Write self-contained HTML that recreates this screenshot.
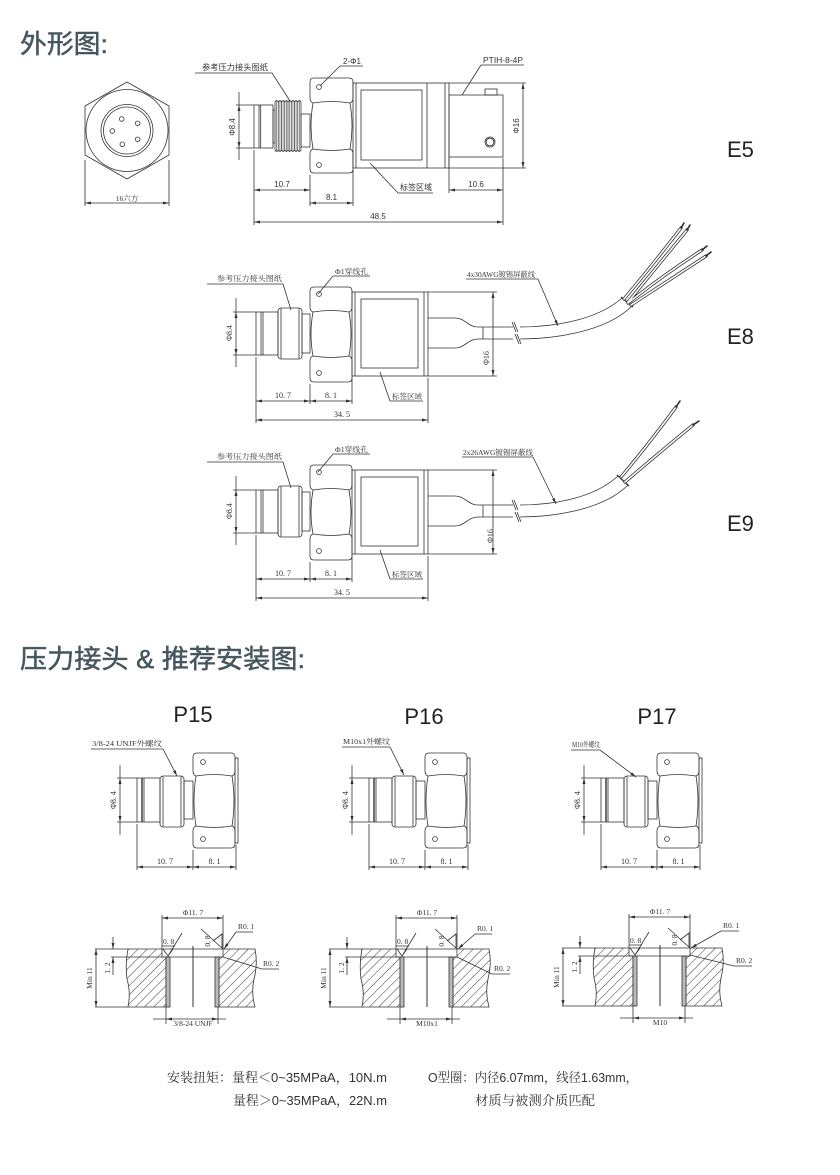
<!DOCTYPE html>
<html><head><meta charset="utf-8"><style>
html,body{margin:0;padding:0;background:#fff;}
svg{display:block;}
text{font-family:"Liberation Sans","Noto Sans CJK SC",sans-serif;fill:#333;}
.hd{font-size:26px;fill:#46575f;stroke:#46575f;stroke-width:0.5px;}
.s{font-size:8px;}
.d{font-family:"Liberation Serif","Noto Serif CJK SC",serif;font-size:8px;}
.c{font-family:"Liberation Serif","Noto Serif CJK SC",serif;font-size:7.5px;}
.big{font-size:22px;fill:#222;}
.bt{font-family:"Liberation Sans","Noto Serif CJK SC",serif;font-size:13px;fill:#333;}
</style></head><body>
<svg width="840" height="1175" viewBox="0 0 840 1175" xmlns="http://www.w3.org/2000/svg">
<defs>
<marker id="a" viewBox="0 0 6 3" refX="6" refY="1.5" markerWidth="6" markerHeight="3" markerUnits="userSpaceOnUse" orient="auto-start-reverse"><path d="M0,0L6,1.5L0,3z" fill="#333"/></marker>
<pattern id="h" width="6.5" height="6.5" patternUnits="userSpaceOnUse" patternTransform="rotate(45)"><line x1="0" y1="0" x2="0" y2="6.5" stroke="#222" stroke-width="0.9"/></pattern>

<g id="e8">
 <path d="M236,298V312M236,355V367M233,312H256M233,355H256"/>
 <path d="M236,312V355" marker-start="url(#a)" marker-end="url(#a)"/>
 <rect x="256" y="312" width="22" height="43"/>
 <path d="M261,312V355M263,312V355"/>
 <rect x="278" y="308" width="24" height="51" rx="3"/>
 <path d="M281,308.5V358.5M299,308.5V358.5"/>
 <rect x="302" y="314" width="8" height="39"/>
 <path d="M314,287L348,287Q352,287 352,291L352,307Q352,311 349,312Q353,334 349,356Q352,357 352,361L352,378Q352,382 348,382L314,382Q310,382 310,378L310,361Q310,357 313,356Q309,334 313,312Q310,311 310,307L310,291Q310,287 314,287Z"/>
 <path d="M313,312Q331,309 349,312M313,356Q331,359 349,356"/>
 <circle cx="319" cy="294" r="2.4"/><circle cx="319" cy="373" r="2.4"/>
 <rect x="352" y="292" width="76" height="84"/>
 <path d="M355,292V376M424,292V376"/>
 <rect x="361" y="299" width="57" height="69"/>
 <path d="M428,318H455C465,318 468,327 478,327H483M428,348H455C465,348 468,339 478,339H483M483,327V339"/>
 <path d="M483,327H513M483,339H513M512,322L516,332M515,334L519,344M514,322L518,332M517,334L521,344"/>
 <path d="M428,292H497M428,376H497"/>
 <path d="M493,292V376" marker-start="url(#a)" marker-end="url(#a)"/>
 <path d="M256,357V423M310,384V404M352,378V404M428,378V423"/>
 <path d="M256,401H310" marker-start="url(#a)" marker-end="url(#a)"/>
 <path d="M310,401H352" marker-start="url(#a)" marker-end="url(#a)"/>
 <path d="M256,420H428" marker-start="url(#a)" marker-end="url(#a)"/>
 <path d="M207,284H283L291,310M333,276H370M333,276L318,294M390,401H423M390,401L380,372"/>
</g>

<g id="fit">
 <path d="M120,765V778M120,822V835M117,778H137M117,822H137"/>
 <path d="M120,778V822" marker-start="url(#a)" marker-end="url(#a)"/>
 <rect x="137" y="778" width="23" height="44"/>
 <path d="M142,778V822" stroke-width="1.4"/>
 <path d="M144,778V822"/>
 <rect x="160" y="776" width="24" height="51" rx="3"/>
 <path d="M163,776.5V826.5M181,776.5V826.5"/>
 <rect x="184" y="781" width="9" height="38"/>
 <path d="M197,753L231,753Q235,753 235,757L235,771Q235,775 232,776Q236,801 232,826Q235,827 235,831L235,844Q235,848 231,848L197,848Q193,848 193,844L193,831Q193,827 196,826Q192,801 196,776Q193,775 193,771L193,757Q193,753 197,753Z"/>
 <path d="M196,776Q214,773 232,776M196,826Q214,829 232,826"/>
 <circle cx="203" cy="762" r="2.4"/><circle cx="203" cy="839" r="2.4"/>
 <rect x="235" y="758" width="3" height="85"/>
 <path d="M137,824V870M193,850V870M236,845V870"/>
 <path d="M137,867H193" marker-start="url(#a)" marker-end="url(#a)"/>
 <path d="M193,867H236" marker-start="url(#a)" marker-end="url(#a)"/>
</g>

<g id="sec">
 <path d="M-65,0L-31,0L-31,8L-27,8L-27,58L-65,58Q-62,44 -66,30Q-68,15 -65,0Z" fill="url(#h)"/>
 <path d="M30,0L62,0Q65,15 61,30Q58,44 62,58L26,58L26,8L30,8Z" fill="url(#h)"/>
 <rect x="-27" y="8" width="4" height="50" fill="#bbb"/>
 <rect x="22" y="8" width="4" height="50" fill="#bbb"/>
 <path d="M-82,8H30M-98,0H-65M-98,58H-65M-31,0H30"/>
 <path d="M0,-3V58" stroke-width="1"/>
 <path d="M-31,-34V0M30,-34V0"/>
 <path d="M-31,-31H30" marker-start="url(#a)" marker-end="url(#a)"/>
 <path d="M-80,-12V0" marker-end="url(#a)"/>
 <path d="M-80,26V8" marker-end="url(#a)"/>
 <path d="M-97,0V58" marker-start="url(#a)" marker-end="url(#a)"/>
 <path d="M-27,58V75M25,58V75M-40,70H-27M25,70H33"/>
 <path d="M-27,70H25" marker-start="url(#a)" marker-end="url(#a)"/>
 <path d="M-30,0L-25,7L-20,0M-25,7L-11,-16M-31,-3H-18"/>
 <path d="M8,-20L30,0M20,-8L29,-15V-1"/>
</g>
</defs>

<text class="hd" x="20" y="53" textLength="88" lengthAdjust="spacingAndGlyphs">外形图:</text>
<text class="hd" x="20" y="668" textLength="285" lengthAdjust="spacingAndGlyphs">压力接头 &amp; 推荐安装图:</text>

<g fill="none" stroke="#333" stroke-width="0.8">
 <polygon points="127,82 169,106 169,155 127,179 85,155 85,106"/>
 <circle cx="127" cy="130.5" r="41"/>
 <circle cx="127" cy="130.5" r="26"/>
 <circle cx="127" cy="130.5" r="23.5"/>
 <circle cx="121.7" cy="119" r="2.3"/><circle cx="137.7" cy="123.3" r="2.3"/>
 <circle cx="112.3" cy="131" r="2.3"/><circle cx="122.3" cy="144.3" r="2.3"/>
 <circle cx="137.7" cy="139.3" r="2.3"/>
 <path d="M85,160V206M169,160V206"/>
 <path d="M85,203H169" marker-start="url(#a)" marker-end="url(#a)"/>

 <path d="M239,92V105M239,148V160M236,105H254M236,148H254"/>
 <path d="M239,105V148" marker-start="url(#a)" marker-end="url(#a)"/>
 <rect x="254" y="105" width="19" height="43"/>
 <path d="M259,105V148M260.7,105V148"/>
 <rect x="273" y="110" width="2" height="33"/>
 <path d="M275,102q1.6,-3 3.25,0q1.6,-3 3.25,0q1.6,-3 3.25,0q1.6,-3 3.25,0q1.6,-3 3.25,0q1.6,-3 3.25,0q1.6,-3 3.25,0q1.6,-3 3.25,0"/>
 <path d="M275,150q1.6,3 3.25,0q1.6,3 3.25,0q1.6,3 3.25,0q1.6,3 3.25,0q1.6,3 3.25,0q1.6,3 3.25,0q1.6,3 3.25,0q1.6,3 3.25,0"/>
 <path d="M275,102V150M278.25,102V150M281.5,102V150M284.75,102V150M288,102V150M291.25,102V150M294.5,102V150M297.75,102V150M301,102V150" stroke="#444"/>
 <path d="M276.6,100V152M279.9,100V152M283.1,100V152M286.4,100V152M289.6,100V152M292.9,100V152M296.1,100V152M299.4,100V152" stroke="#666" stroke-width="0.7"/>
 <rect x="301" y="114" width="9" height="33"/>
 <path d="M314,78L349,78Q353,78 353,82L353,98Q353,102 350,103Q354,126 350,149Q353,150 353,154L353,169Q353,173 349,173L314,173Q310,173 310,169L310,154Q310,150 313,149Q309,126 313,103Q310,102 310,98L310,82Q310,78 314,78Z"/>
 <path d="M313,103Q331.5,100 350,103M313,149Q331.5,152 350,149"/>
 <circle cx="319" cy="87" r="2.4"/><circle cx="319" cy="165" r="2.4"/>
 <rect x="353" y="83" width="96" height="85"/>
 <path d="M356,83V168M427,83V168M445,83V168"/>
 <rect x="361" y="90" width="61" height="70"/>
 <rect x="449" y="95" width="54" height="62"/>
 <rect x="485" y="89" width="12" height="6"/>
 <circle cx="490" cy="142" r="5"/><circle cx="490" cy="142" r="3.8"/>
 <path d="M449,83H526M449,168H526"/>
 <path d="M523,83V168" marker-start="url(#a)" marker-end="url(#a)"/>
 <path d="M195,73H272L290,101M340,66H363M340,66L320,86M481,65H524M481,65L462,95M398,193H433M398,193L370,163"/>
 <path d="M254,150V225M310,175V206M353,170V206M449,158V193M503,158V225"/>
 <path d="M254,190H310" marker-start="url(#a)" marker-end="url(#a)"/>
 <path d="M310,203H353" marker-start="url(#a)" marker-end="url(#a)"/>
 <path d="M449,190H503" marker-start="url(#a)" marker-end="url(#a)"/>
 <path d="M254,222H503" marker-start="url(#a)" marker-end="url(#a)"/>

 <use href="#e8"/>
 <path d="M520,327C548,327 595,322 622,298M520,339C550,339 605,333 632,306"/>
 <path d="M621,297L633,307" stroke-width="1.4"/>
 <path d="M466,279H538"/>
 <path d="M538,279L558,326" marker-end="url(#a)"/>

 <use href="#e8" y="178"/>
 <path d="M520,505C548,505 592,500 618,476M520,517C550,517 602,511 628,485"/>
 <path d="M617,475L629,486" stroke-width="1.4"/>
 <path d="M462,457H533"/>
 <path d="M533,457L556,504" marker-end="url(#a)"/>

 <use href="#fit"/>
 <use href="#fit" x="232"/>
 <use href="#fit" x="464"/>
 <path d="M91,749H163M342,747H390M571,750H600"/>
 <path d="M163,749L177,776" marker-end="url(#a)"/>
 <path d="M390,747L404,775" marker-end="url(#a)"/>
 <path d="M600,750L636,777" marker-end="url(#a)"/>

 <use href="#sec" transform="translate(193,949)"/>
 <use href="#sec" transform="translate(427,949)"/>
 <use href="#sec" transform="translate(660,948)"/>
 <path d="M236,932H253M262,969H279M475,934H492M492,974H510M721,931H739M734,966H752"/>
 <path d="M236,932L224,949" marker-end="url(#a)"/>
 <path d="M262,969L223,957"/>
 <path d="M475,934L458,949" marker-end="url(#a)"/>
 <path d="M492,974L457,957"/>
 <path d="M721,931L691,948" marker-end="url(#a)"/>
 <path d="M734,966L690,955"/>
</g>

<g fill="none" stroke-linecap="round">
 <g stroke="#333" stroke-width="3.2">
  <path d="M624,299Q650,268 681,228"/><path d="M628,302Q656,268 687,230"/>
  <path d="M628,303Q662,276 702,250"/><path d="M631,305Q666,282 706,256"/>
  <path d="M621,477Q648,445 676,407"/><path d="M625,482Q660,452 693,425"/>
 </g>
 <g stroke="#fff" stroke-width="1.6">
  <path d="M624,299Q650,268 681,228"/><path d="M628,302Q656,268 687,230"/>
  <path d="M628,303Q662,276 702,250"/><path d="M631,305Q666,282 706,256"/>
  <path d="M621,477Q648,445 676,407"/><path d="M625,482Q660,452 693,425"/>
 </g>
 <g stroke="#222" stroke-width="1.5">
  <path d="M681,228l3,-5M687,230l3,-5M702,250l5,-4M706,256l5,-4M676,407l4,-6M693,425l6,-4"/>
 </g>
</g>

<text class="c" x="127" y="201" text-anchor="middle">16六方</text>
<text class="s" x="235" y="127" text-anchor="middle" transform="rotate(-90 235 127)">Φ8.4</text>
<text class="s" x="202" y="70" textLength="66" lengthAdjust="spacingAndGlyphs">参考压力接头图纸</text>
<text class="s" x="343" y="64">2-Φ1</text>
<text class="s" x="483" y="63" textLength="40" lengthAdjust="spacingAndGlyphs">PTIH-8-4P</text>
<text class="s" x="400" y="190" textLength="32" lengthAdjust="spacingAndGlyphs">标签区域</text>
<text class="s" x="519" y="126" text-anchor="middle" transform="rotate(-90 519 126)">Φ16</text>
<text class="s" x="282" y="187" text-anchor="middle">10.7</text>
<text class="s" x="331.5" y="200" text-anchor="middle">8.1</text>
<text class="s" x="476" y="187" text-anchor="middle">10.6</text>
<text class="s" x="378" y="219" text-anchor="middle">48.5</text>
<text class="big" x="727" y="157">E5</text>

<text class="d" x="232" y="333" text-anchor="middle" transform="rotate(-90 232 333)">Φ8.4</text>
<text class="c" x="217" y="281" textLength="65" lengthAdjust="spacingAndGlyphs">参考压力接头图纸</text>
<text class="c" x="335" y="274" textLength="33" lengthAdjust="spacingAndGlyphs">Φ1穿线孔</text>
<text class="c" x="467" y="277" textLength="68" lengthAdjust="spacingAndGlyphs">4x30AWG镀锡屏蔽线</text>
<text class="c" x="392" y="399" textLength="30" lengthAdjust="spacingAndGlyphs">标签区域</text>
<text class="d" x="489" y="358" text-anchor="middle" transform="rotate(-90 489 358)">Φ16</text>
<text class="d" x="283" y="398" text-anchor="middle">10. 7</text>
<text class="d" x="331" y="398" text-anchor="middle">8. 1</text>
<text class="d" x="342" y="417" text-anchor="middle">34. 5</text>
<text class="big" x="727" y="344">E8</text>

<text class="d" x="232" y="511" text-anchor="middle" transform="rotate(-90 232 511)">Φ8.4</text>
<text class="c" x="217" y="459" textLength="65" lengthAdjust="spacingAndGlyphs">参考压力接头图纸</text>
<text class="c" x="335" y="452" textLength="33" lengthAdjust="spacingAndGlyphs">Φ1穿线孔</text>
<text class="c" x="463" y="455" textLength="70" lengthAdjust="spacingAndGlyphs">2x26AWG镀锡屏蔽线</text>
<text class="c" x="392" y="577" textLength="30" lengthAdjust="spacingAndGlyphs">标签区域</text>
<text class="d" x="493" y="536" text-anchor="middle" transform="rotate(-90 493 536)">Φ16</text>
<text class="d" x="283" y="576" text-anchor="middle">10. 7</text>
<text class="d" x="331" y="576" text-anchor="middle">8. 1</text>
<text class="d" x="342" y="595" text-anchor="middle">34. 5</text>
<text class="big" x="727" y="531">E9</text>

<text class="big" x="193" y="722" text-anchor="middle">P15</text>
<text class="big" x="424" y="724" text-anchor="middle">P16</text>
<text class="big" x="657" y="724" text-anchor="middle">P17</text>
<text class="c" x="92" y="746" textLength="70" lengthAdjust="spacingAndGlyphs">3/8-24 UNJF外螺纹</text>
<text class="c" x="343" y="744" textLength="47" lengthAdjust="spacingAndGlyphs">M10x1外螺纹</text>
<text class="c" x="572" y="747" textLength="28" lengthAdjust="spacingAndGlyphs">M10外螺纹</text>
<text class="d" x="116" y="800" text-anchor="middle" transform="rotate(-90 116 800)">Φ8. 4</text>
<text class="d" x="348" y="800" text-anchor="middle" transform="rotate(-90 348 800)">Φ8. 4</text>
<text class="d" x="580" y="800" text-anchor="middle" transform="rotate(-90 580 800)">Φ8. 4</text>
<text class="d" x="165" y="864" text-anchor="middle">10. 7</text>
<text class="d" x="214.5" y="864" text-anchor="middle">8. 1</text>
<text class="d" x="397" y="864" text-anchor="middle">10. 7</text>
<text class="d" x="446.5" y="864" text-anchor="middle">8. 1</text>
<text class="d" x="629" y="864" text-anchor="middle">10. 7</text>
<text class="d" x="678.5" y="864" text-anchor="middle">8. 1</text>

<text class="c" x="193" y="915" text-anchor="middle">Φ11. 7</text>
<text class="c" x="427" y="915" text-anchor="middle">Φ11. 7</text>
<text class="c" x="660" y="914" text-anchor="middle">Φ11. 7</text>
<text class="c" x="163" y="944">0. 8</text>
<text class="c" x="397" y="944">0. 8</text>
<text class="c" x="630" y="943">0. 8</text>
<text class="c" x="210" y="941" text-anchor="middle" transform="rotate(-90 210 941)">0. 8</text>
<text class="c" x="444" y="941" text-anchor="middle" transform="rotate(-90 444 941)">0. 8</text>
<text class="c" x="677" y="940" text-anchor="middle" transform="rotate(-90 677 940)">0. 8</text>
<text class="c" x="238" y="929">R0. 1</text>
<text class="c" x="263" y="966">R0. 2</text>
<text class="c" x="477" y="931">R0. 1</text>
<text class="c" x="494" y="971">R0. 2</text>
<text class="c" x="723" y="928">R0. 1</text>
<text class="c" x="736" y="963">R0. 2</text>
<text class="c" x="110" y="968" text-anchor="middle" transform="rotate(-90 110 968)">1. 2</text>
<text class="c" x="344" y="968" text-anchor="middle" transform="rotate(-90 344 968)">1. 2</text>
<text class="c" x="577" y="967" text-anchor="middle" transform="rotate(-90 577 967)">1. 2</text>
<text class="c" x="92" y="978" text-anchor="middle" transform="rotate(-90 92 978)">Min 11</text>
<text class="c" x="326" y="978" text-anchor="middle" transform="rotate(-90 326 978)">Min 11</text>
<text class="c" x="559" y="977" text-anchor="middle" transform="rotate(-90 559 977)">Min 11</text>
<text class="c" x="193" y="1026" text-anchor="middle">3/8-24 UNJF</text>
<text class="c" x="427" y="1026" text-anchor="middle">M10x1</text>
<text class="c" x="660" y="1025" text-anchor="middle">M10</text>

<text class="bt" x="167" y="1082" textLength="220" lengthAdjust="spacingAndGlyphs">安装扭矩：量程＜0~35MPaA，10N.m</text>
<text class="bt" x="233" y="1105" textLength="154" lengthAdjust="spacingAndGlyphs">量程＞0~35MPaA，22N.m</text>
<text class="bt" x="428" y="1082" textLength="210" lengthAdjust="spacingAndGlyphs">O型圈：内径6.07mm，线径1.63mm，</text>
<text class="bt" x="475" y="1105" textLength="120" lengthAdjust="spacingAndGlyphs">材质与被测介质匹配</text>
</svg>
</body></html>
